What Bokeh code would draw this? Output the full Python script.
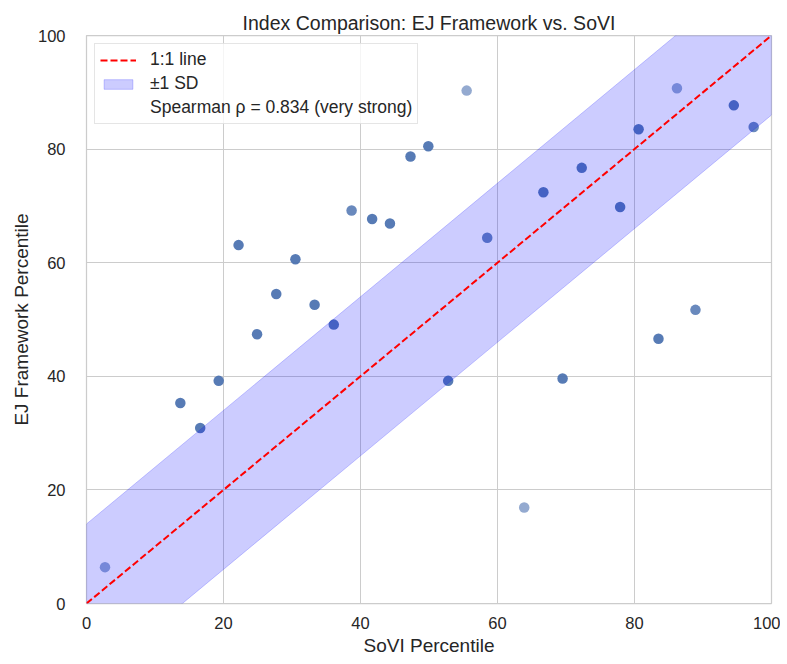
from bokeh.plotting import figure
from bokeh.models import ColumnDataSource, Legend, LegendItem, Range1d
from bokeh.embed import file_html
from bokeh.resources import INLINE

# ---- data ----
sovi_pct = [2.7, 13.7, 16.6, 19.3, 22.2, 24.9, 27.7, 30.5, 33.3, 36.1, 38.7, 41.7,
            44.3, 47.3, 49.9, 52.8, 55.5, 58.5, 63.9, 66.7, 69.5, 72.3, 77.9, 80.6,
            83.5, 86.2, 88.9, 94.5, 97.4]
ej_pct = [6.4, 35.3, 30.9, 39.2, 63.1, 47.4, 54.5, 60.6, 52.6, 49.1, 69.2, 67.7,
          66.9, 78.7, 80.5, 39.2, 90.3, 64.4, 16.9, 72.4, 39.6, 76.7, 69.8, 83.5,
          46.6, 90.7, 51.7, 87.7, 83.9]
# number of overlapping observations at each plotted location
n_overlap = [1, 3, 3, 3, 3, 3, 3, 3, 3, 3, 2, 3,
             3, 3, 3, 3, 1, 2, 1, 3, 3, 3, 3, 3,
             3, 1, 2, 3, 2]
line_1to1 = [0, 100]
sd = 14.0
spearman_rho = 0.834

FONT = "Liberation Sans"
TXT = "#262626"

base_alpha = 0.6
alphas = [1 - (1 - base_alpha) ** n for n in n_overlap]
src = ColumnDataSource(dict(x=sovi_pct, y=ej_pct, a=alphas))

p = figure(frame_width=685, frame_height=568,
           x_range=Range1d(0, 100), y_range=Range1d(0, 100),
           output_backend="svg", toolbar_location=None,
           min_border_left=86, min_border_right=9,
           min_border_top=35, min_border_bottom=53,
           background_fill_color="white", border_fill_color="white")

p.title.text = "Index Comparison: EJ Framework vs. SoVI"
p.title.align = "center"
p.title.vertical_align = "top"
p.title.text_font = FONT
p.title.text_font_size = "19.5px"
p.title.text_font_style = "normal"
p.title.text_color = TXT
p.title.standoff = 0

# scatter
p.scatter("x", "y", source=src, size=10.5, fill_color="#4c72b0", line_color=None,
          fill_alpha="a")

# ±1 SD band
band_x = [line_1to1[0], line_1to1[1], line_1to1[1], line_1to1[0]]
band_y = [line_1to1[0] - sd, line_1to1[1] - sd, line_1to1[1] + sd, line_1to1[0] + sd]
band = p.patch(band_x, band_y, fill_color="blue", fill_alpha=0.2,
               line_color="blue", line_alpha=0.2, line_width=1)

# 1:1 line
l11 = p.line(line_1to1, line_1to1, line_color="red", line_width=2, line_dash="7 3")

# invisible renderer for text-only legend entry
blank = p.line([], [], line_alpha=0)

legend = Legend(items=[
    LegendItem(label="1:1 line", renderers=[l11]),
    LegendItem(label="±1 SD", renderers=[band]),
    LegendItem(label=f"Spearman ρ = {spearman_rho:.3f} (very strong)", renderers=[blank]),
], location="top_left")
legend.margin = 8
legend.padding = 5
legend.spacing = 3
legend.glyph_width = 36
legend.glyph_height = 12
legend.label_height = 20
legend.label_standoff = 14
legend.label_text_font = FONT
legend.label_text_font_size = "17.5px"
legend.label_text_color = TXT
legend.border_line_color = "#cccccc"
legend.border_line_width = 1
legend.background_fill_color = "white"
legend.background_fill_alpha = 0.8
p.add_layout(legend)

# axes
for ax in (p.xaxis[0], p.yaxis[0]):
    ax.ticker = [0, 20, 40, 60, 80, 100]
    ax.major_tick_out = 0
    ax.major_tick_in = 0
    ax.minor_tick_out = 0
    ax.minor_tick_in = 0
    ax.axis_line_color = None
    ax.major_label_text_font = FONT
    ax.major_label_text_font_size = "16.5px"
    ax.major_label_text_color = TXT
    ax.axis_label_text_font = FONT
    ax.axis_label_text_font_size = "19px"
    ax.axis_label_text_font_style = "normal"
    ax.axis_label_text_color = TXT

p.xaxis.axis_label = "SoVI Percentile"
p.yaxis.axis_label = "EJ Framework Percentile"
p.xaxis.major_label_standoff = 13
p.xaxis.axis_label_standoff = 3
p.yaxis.major_label_standoff = 21
p.yaxis.axis_label_standoff = 3

p.grid.grid_line_color = "#cccccc"
p.grid.grid_line_width = 1
p.outline_line_color = "#cccccc"
p.outline_line_width = 1.25

open("out.html", "w").write(file_html(p, INLINE))
